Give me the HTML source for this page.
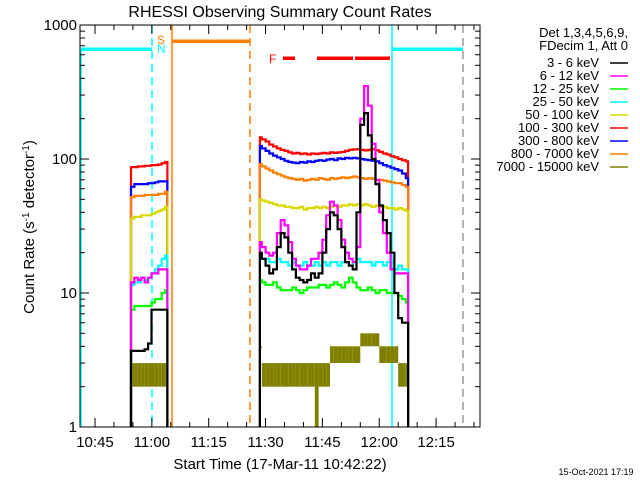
<!DOCTYPE html>
<html><head><meta charset="utf-8">
<style>
html,body{margin:0;padding:0;background:#fff;}
svg{display:block;font-family:"Liberation Sans",sans-serif;}
</style></head>
<body>
<svg id="chart" width="640" height="480" viewBox="0 0 640 480" xmlns="http://www.w3.org/2000/svg">
<rect width="640" height="480" fill="#fff"/>
<text x="280" y="17" font-size="16" text-anchor="middle">RHESSI Observing Summary Count Rates</text>
<g id="plot"></g>
<g id="axes"></g>
<text x="280" y="469" font-size="15" text-anchor="middle">Start Time (17-Mar-11 10:42:22)</text>
<text transform="translate(34,227) rotate(-90)" font-size="15" text-anchor="middle">Count Rate (s<tspan baseline-shift="super" font-size="10">-1</tspan> detector<tspan baseline-shift="super" font-size="10">-1</tspan>)</text>
<text x="596" y="475" font-size="9" text-anchor="middle">15-Oct-2021 17:19</text>
<g id="legend"></g>
</svg>
<script>
// ---- data (minutes after 10:45) ----
const timesA = [9.5,10.4,11.3,12.2,13.1,14,14.9,15.8,16.7,17.6,18.5];
const timesB = [43.5,44,45,46,47,48,49,50,51,52,53,54,55,56,57,58,59,60,61,62,63,64,65,66,67,68,69,70,71,72,73,74,75,76,77,78,79,80,81,82];
const bandLabels = ["3 - 6 keV","6 - 12 keV","12 - 25 keV","25 - 50 keV","50 - 100 keV","100 - 300 keV","300 - 800 keV","800 - 7000 keV","7000 - 15000 keV"];
const bandColors = ["#000000","#ff00ff","#00ff00","#00ffff","#d8d800","#ff0000","#0000ff","#ff8000","#808000"];
const redA = [87,87,88,88,89,89,90,90,91,93,95];
const blueA = [62,65,65,65,65,66,66,67,68,68,68];
const orangeA = [52,53,53,53,54,54,54,54,55,55,57];
const yellowA = [36,37,37,38,38,38,39,40,41,42,44];
const magentaA = [12,13,12.5,13,12,13,14,14,15,15,15];
const cyanA = [11.5,12,12,13,12.5,13,14,15,16,18,19];
const greenA = [7.5,8,8,8,8,8,8.5,9,9,10,10.5];
const blackA = [3.7,3.7,3.7,3.7,3.8,4.2,7.5,7.5,7.5,7.5,7.5];
const oliveLoA = [2,2,2,2,2,2,2,2,2,2,2];
const oliveHiA = [3,3,3,3,3,3,3,3,3,3,3];
const redB = [145,140,135,128,124,120,117,115,112,110,111,109,110,108,110,109,110,111,110,112,111,112,113,115,117,118,118,117,116,117,118,116,113,110,108,105,103,100,98,96];
const blueB = [125,120,115,110,106,103,100,97,95,94,93,95,94,96,95,97,98,97,99,100,98,101,100,102,101,102,101,100,99,98,97,96,93,90,88,86,84,82,78,72];
const orangeB = [92,88,85,82,79,77,75,73,72,71,70,71,69,70,71,70,72,71,70,72,71,72,73,72,73,74,73,72,71,72,71,70,70,69,68,67,66,66,64,62];
const yellowB = [50,49,48,47,46,45,45,44,44,43,43,44,42,43,43,44,43,44,43,44,45,44,45,45,46,45,46,45,46,45,44,45,44,44,43,43,42,43,42,41];
const cyanB = [19,18,18,17,17,18,17,17,16,17,16,16,17,16,16,17,16,17,16,17,17,16,17,17,16,17,18,17,17,17,16,17,17,16,17,17,15,16,15,15];
const greenB = [12.5,12,11.5,11.5,12,11,10.5,10.5,10.5,11,10.5,10,10.5,11,11,11,11.5,11.5,11,11.5,12,11.5,11,12,13,12,11,10.5,10.5,11,10.5,10,10.5,10.5,10,10,10,9.5,9,8.5];
const blackB = [20,18,16,14,15,22,28,26,20,15,13,12.5,12,12.5,14,13,14,20,30,40,38,30,22,17,16,15,40,180,220,150,100,65,45,35,28,20,10,6.5,6,6];
const magentaB = [24,22,20,19,20,28,35,32,24,18,16,15,15,16,18,18,20,25,38,48,45,35,25,20,18,17,22,200,350,250,130,70,40,28,20,15,14,14,14,14];
const oliveLoB = [4,2,2,2,2,2,2,2,2,2,2,2,2,2,2,1,2,2,2,3,3,3,3,3,3,3,3,4,4,4,4,4,3,3,3,3,3,2,2,2];
const oliveHiB = [4,3,3,3,3,3,3,3,3,3,3,3,3,3,3,3,3,3,3,4,4,4,4,4,4,4,4,5,5,5,5,5,4,4,4,4,4,3,3,3];
const yTickValues = [1,10,100,1000];
const yTickLabels = ["1","10","100","1000"];
const xTickMinutes = [0,15,30,45,60,75,90];
const xTickLabels = ["10:45","11:00","11:15","11:30","11:45","12:00","12:15"];

// ---- scales ----
const X0=80, X1=480, Y0=25, Y1=427;
function xs(m){ return 95 + m*3.79; }
function ys(v){ return 427 - 134*Math.log10(v); }
const NS="http://www.w3.org/2000/svg";
function mk(tag, attrs, parent){ const e=document.createElementNS(NS,tag); for(const k in attrs) e.setAttribute(k,attrs[k]); parent.appendChild(e); return e; }
const plot=document.getElementById('plot'), axes=document.getElementById('axes'), legend=document.getElementById('legend');

const defs=mk('defs',{},plot);
const cp=mk('clipPath',{id:'clip'},defs);
mk('rect',{x:X0,y:Y0,width:X1-X0,height:Y1-Y0},cp);
const g=mk('g',{'clip-path':'url(#clip)'},plot);

function vline(x,color,dash,name,y0){
  const l=mk('line',{x1:x,x2:x,y1:y0||Y0,y2:Y1,stroke:color,'stroke-width':1.5,'stroke-dasharray':dash||'none'},g);
  
  
}
vline(81,'#00ffff',null,'night-start-line',49);
vline(152,'#00ffff','8,5','night-end-line');
vline(172,'#ff8000',null,'saa-start-line');
vline(250,'#ff8000','8,5','saa-end-line');
vline(392,'#00ffff',null,'night2-start-line');
vline(463,'#999999','8,5','data-end-line');
function hbar(x1,x2,y,color,name){
  const r=mk('rect',{x:x1,y:y-1.5,width:x2-x1,height:3.5,fill:color},g);
  
  
}
hbar(81,152,49,'#00ffff','night-bar');
hbar(172,250,41,'#ff8000','saa-bar');
hbar(392,463,49,'#00ffff','night2-bar');
hbar(283,295,58,'#ff0000','flare-bar-1');
hbar(317,353,58,'#ff0000','flare-bar-2');
hbar(355,390,58,'#ff0000','flare-bar-3');
function lbl(x,y,t,c,name,fs){ const e=mk('text',{x:x,y:y,fill:c,'font-size':fs||12},plot); e.textContent=t;
    }
lbl(157,44,'S','#ff8000','saa-marker');
lbl(157,53,'N','#00ffff','night-marker');
lbl(269,63,'F','#ff0000','flare-marker');

function stepPath(times,vals){
  let d='M'+xs(times[0]).toFixed(1)+','+Y1;
  for(let i=0;i<times.length;i++){
    const x=xs(times[i]).toFixed(1), x2=xs(i+1<times.length?times[i+1]:times[i]+0.6).toFixed(1), y=ys(vals[i]).toFixed(1);
    d+=' L'+x+','+y+' L'+x2+','+y;
  }
  d+=' L'+xs(times[times.length-1]+0.6).toFixed(1)+','+Y1;
  return d;
}
function olive(times,lo,hi){
  for(let i=0;i<times.length;i++){
    const x=xs(times[i]), w=xs(i+1<times.length?times[i+1]:times[i]+0.6)-x;
    const r=mk('rect',{x:x.toFixed(1),y:ys(hi[i]).toFixed(1),width:w.toFixed(1),height:Math.max(2,ys(lo[i])-ys(hi[i])).toFixed(1),fill:'#808000'},g);
    
    
  }
}
olive(timesA,oliveLoA,oliveHiA);
olive(timesB,oliveLoB,oliveHiB);
const order=[[5,redA,redB],[6,blueA,blueB],[7,orangeA,orangeB],[4,yellowA,yellowB],[2,greenA,greenB],[3,cyanA,cyanB],[0,blackA,blackB],[1,magentaA,magentaB]];
const drawOrder=[order[0],order[1],order[2],order[3],order[4],order[5],order[7],order[6]];
drawOrder.forEach(([bi,a,b])=>{
  [[timesA,a],[timesB,b]].forEach(([t,v])=>{
    const p=mk('path',{d:stepPath(t,v),fill:'none',stroke:bandColors[bi],'stroke-width':2.2},g);
    
    
  });
});

mk('rect',{x:X0,y:Y0,width:X1-X0,height:Y1-Y0,fill:'none',stroke:'#000','stroke-width':1},axes);
for(let i=0;i<yTickValues.length;i++){
  const y=ys(yTickValues[i]);
  mk('line',{x1:X0,x2:X0+9,y1:y,y2:y,stroke:'#000'},axes);
  mk('line',{x1:X1,x2:X1-9,y1:y,y2:y,stroke:'#000'},axes);
  const t=mk('text',{x:X0-3,y:y+5,'font-size':15,'text-anchor':'end'},axes); t.textContent=yTickLabels[i];
  
  
  if(i<yTickValues.length-1) for(let k=2;k<10;k++){
    const yy=ys(yTickValues[i]*k);
    mk('line',{x1:X0,x2:X0+5,y1:yy,y2:yy,stroke:'#000'},axes);
    mk('line',{x1:X1,x2:X1-5,y1:yy,y2:yy,stroke:'#000'},axes);
  }
}
for(let m=-10;m<=100;m+=5){
  const x=xs(m); if(x<X0||x>X1) continue;
  const len=(m%15===0)?9:5;
  mk('line',{x1:x,x2:x,y1:Y1,y2:Y1-len,stroke:'#000'},axes);
  mk('line',{x1:x,x2:x,y1:Y0,y2:Y0+len,stroke:'#000'},axes);
}
for(let i=0;i<xTickMinutes.length;i++){
  const t=mk('text',{x:xs(xTickMinutes[i]),y:447,'font-size':15,'text-anchor':'middle'},axes); t.textContent=xTickLabels[i];
  
  
}

const lh=[['Det 1,3,4,5,6,9,',37],['FDecim 1, Att 0',50]];
lh.forEach(([s,y])=>{ const t=mk('text',{x:628,y:y,'font-size':13,'text-anchor':'end'},legend); t.textContent=s;
    });
for(let i=0;i<bandLabels.length;i++){
  const y=63+i*13;
  const t=mk('text',{x:599,y:y+4,'font-size':13,'text-anchor':'end'},legend); t.textContent=bandLabels[i];
   
  const l=mk('line',{x1:610,x2:628,y1:y,y2:y,stroke:bandColors[i],'stroke-width':1.5},legend);
   
}
</script>
</body></html>
